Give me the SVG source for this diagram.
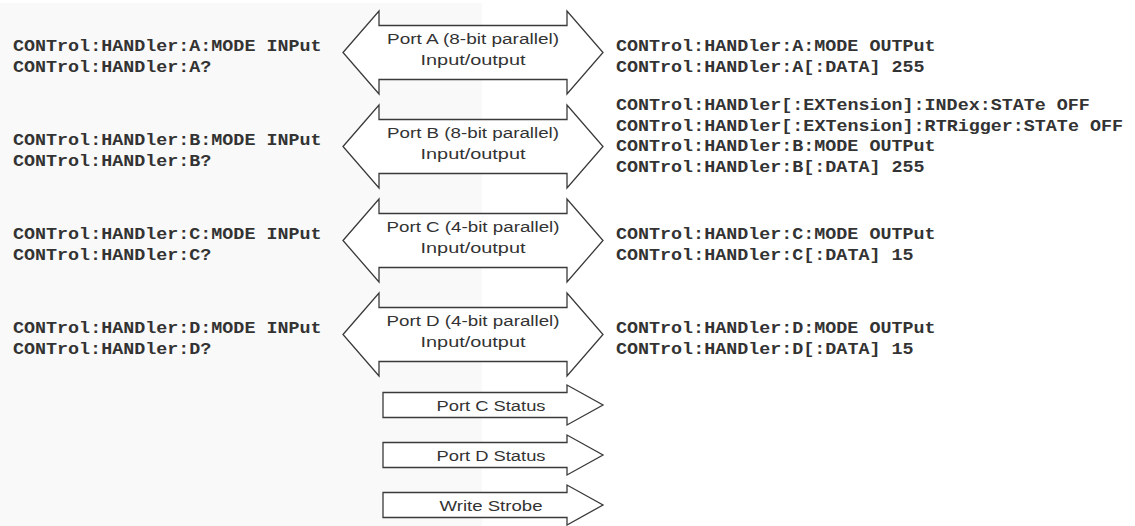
<svg xmlns="http://www.w3.org/2000/svg" xmlns:xlink="http://www.w3.org/1999/xlink" width="1135" height="526" viewBox="0 0 1135 526">
  <style>
    .bg { fill: #f9f9f9; }
    .shape { fill: #ffffff; stroke: #3a3a3a; stroke-width: 1.3; stroke-linejoin: miter; }
    .cmd { font-family: "Liberation Mono", "Courier New", monospace; font-weight: bold; font-size: 16px; fill: #333333; }
    .lbl { font-family: "Liberation Sans", Arial, sans-serif; font-size: 15.5px; fill: #333333; text-anchor: middle; }
  </style>
  <defs>
    <path id="bigArrow" d="M343,0 L379,-41.5 L379,-27 L567,-27 L567,-41.5 L603,0 L567,41.5 L567,27 L379,27 L379,41.5 Z"/>
    <path id="smallArrow" d="M383,-12.5 L567,-12.5 L567,-20 L603,0 L567,20 L567,12.5 L383,12.5 Z"/>
  </defs>
  <rect class="bg" x="0" y="3" width="482" height="523"/>

  <g id="connectors"></g>

  <g id="portA">
    <use href="#bigArrow" class="shape" y="52.5"/>
    <text class="lbl" x="473" y="43.5" textLength="172" lengthAdjust="spacingAndGlyphs">Port A (8-bit parallel)</text>
    <text class="lbl" x="473" y="65" textLength="105" lengthAdjust="spacingAndGlyphs">Input/output</text>
  </g>
  <g id="portB">
    <use href="#bigArrow" class="shape" y="146.5"/>
    <text class="lbl" x="473" y="137.5" textLength="172" lengthAdjust="spacingAndGlyphs">Port B (8-bit parallel)</text>
    <text class="lbl" x="473" y="159" textLength="105" lengthAdjust="spacingAndGlyphs">Input/output</text>
  </g>
  <g id="portC">
    <use href="#bigArrow" class="shape" y="240.5"/>
    <text class="lbl" x="473" y="231.5" textLength="173" lengthAdjust="spacingAndGlyphs">Port C (4-bit parallel)</text>
    <text class="lbl" x="473" y="253" textLength="105" lengthAdjust="spacingAndGlyphs">Input/output</text>
  </g>
  <g id="portD">
    <use href="#bigArrow" class="shape" y="334.5"/>
    <text class="lbl" x="473" y="325.5" textLength="173" lengthAdjust="spacingAndGlyphs">Port D (4-bit parallel)</text>
    <text class="lbl" x="473" y="347" textLength="105" lengthAdjust="spacingAndGlyphs">Input/output</text>
  </g>
  <g id="portCStatus">
    <use href="#smallArrow" class="shape" y="405"/>
    <text class="lbl" x="491" y="410.5" textLength="109" lengthAdjust="spacingAndGlyphs">Port C Status</text>
  </g>
  <g id="portDStatus">
    <use href="#smallArrow" class="shape" y="455"/>
    <text class="lbl" x="491" y="460.5" textLength="109" lengthAdjust="spacingAndGlyphs">Port D Status</text>
  </g>
  <g id="writeStrobe">
    <use href="#smallArrow" class="shape" y="505"/>
    <text class="lbl" x="491" y="510.5" textLength="103" lengthAdjust="spacingAndGlyphs">Write Strobe</text>
  </g>

  <g id="inputCommands">
    <text class="cmd" x="13" y="51" textLength="308.5" lengthAdjust="spacingAndGlyphs">CONTrol:HANDler:A:MODE INPut</text>
    <text class="cmd" x="13" y="71.5" textLength="198.3" lengthAdjust="spacingAndGlyphs">CONTrol:HANDler:A?</text>
    <text class="cmd" x="13" y="145" textLength="308.5" lengthAdjust="spacingAndGlyphs">CONTrol:HANDler:B:MODE INPut</text>
    <text class="cmd" x="13" y="165.5" textLength="198.3" lengthAdjust="spacingAndGlyphs">CONTrol:HANDler:B?</text>
    <text class="cmd" x="13" y="239" textLength="308.5" lengthAdjust="spacingAndGlyphs">CONTrol:HANDler:C:MODE INPut</text>
    <text class="cmd" x="13" y="259.5" textLength="198.3" lengthAdjust="spacingAndGlyphs">CONTrol:HANDler:C?</text>
    <text class="cmd" x="13" y="333" textLength="308.5" lengthAdjust="spacingAndGlyphs">CONTrol:HANDler:D:MODE INPut</text>
    <text class="cmd" x="13" y="353.5" textLength="198.3" lengthAdjust="spacingAndGlyphs">CONTrol:HANDler:D?</text>
  </g>

  <g id="outputCommands">
    <text class="cmd" x="616" y="51" textLength="319.5" lengthAdjust="spacingAndGlyphs">CONTrol:HANDler:A:MODE OUTPut</text>
    <text class="cmd" x="616" y="71.5" textLength="308.5" lengthAdjust="spacingAndGlyphs">CONTrol:HANDler:A[:DATA] 255</text>
    <text class="cmd" x="616" y="110" textLength="473.9" lengthAdjust="spacingAndGlyphs">CONTrol:HANDler[:EXTension]:INDex:STATe OFF</text>
    <text class="cmd" x="616" y="130.5" textLength="507" lengthAdjust="spacingAndGlyphs">CONTrol:HANDler[:EXTension]:RTRigger:STATe OFF</text>
    <text class="cmd" x="616" y="151" textLength="319.5" lengthAdjust="spacingAndGlyphs">CONTrol:HANDler:B:MODE OUTPut</text>
    <text class="cmd" x="616" y="171.5" textLength="308.5" lengthAdjust="spacingAndGlyphs">CONTrol:HANDler:B[:DATA] 255</text>
    <text class="cmd" x="616" y="239" textLength="319.5" lengthAdjust="spacingAndGlyphs">CONTrol:HANDler:C:MODE OUTPut</text>
    <text class="cmd" x="616" y="259.5" textLength="297.5" lengthAdjust="spacingAndGlyphs">CONTrol:HANDler:C[:DATA] 15</text>
    <text class="cmd" x="616" y="333" textLength="319.5" lengthAdjust="spacingAndGlyphs">CONTrol:HANDler:D:MODE OUTPut</text>
    <text class="cmd" x="616" y="353.5" textLength="297.5" lengthAdjust="spacingAndGlyphs">CONTrol:HANDler:D[:DATA] 15</text>
  </g>
</svg>
